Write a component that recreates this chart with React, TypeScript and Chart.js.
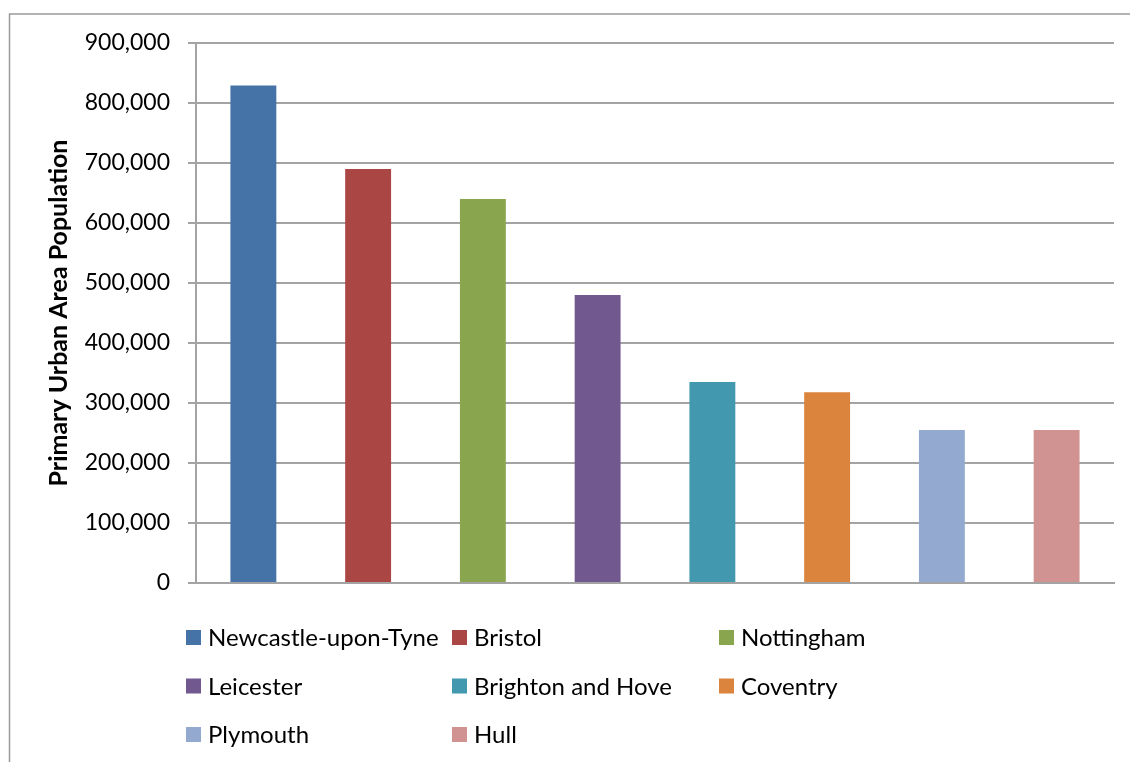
import React, { useEffect, useRef } from "react";
import { Chart, registerables } from "chart.js";

Chart.register(...registerables);

const categories = [
  "Newcastle-upon-Tyne",
  "Bristol",
  "Nottingham",
  "Leicester",
  "Brighton and Hove",
  "Coventry",
  "Plymouth",
  "Hull",
];
const populations = [829000, 690000, 640000, 480000, 335000, 318000, 255000, 255000];
const barColors = [
  "#4572A7",
  "#AA4643",
  "#89A54E",
  "#71588F",
  "#4198AF",
  "#DB843D",
  "#93A9CF",
  "#D19392",
];
const yAxisTitle = "Primary Urban Area Population";
const yMin = 0;
const yMax = 900000;
const yStep = 100000;

const FONT = "Lato, 'Open Sans', sans-serif";
const GRID = "#a3a3a3";

const frameAndLegend = {
  id: "frameAndLegend",
  afterDraw(chart: any) {
    const ctx = chart.ctx;
    ctx.save();
    // outer frame (top and left visible)
    ctx.strokeStyle = "#9a9a9a";
    ctx.lineWidth = 1.5;
    ctx.beginPath();
    ctx.moveTo(9.5, 762);
    ctx.lineTo(9.5, 14);
    ctx.lineTo(1130, 14);
    ctx.stroke();

    // legend in 3 columns
    const colX = [186, 452, 719];
    const rowY = [637.5, 686, 734.5];
    ctx.font = "24px " + FONT;
    ctx.textBaseline = "middle";
    ctx.textAlign = "left";
    categories.forEach((name, i) => {
      const c = i % 3;
      const r = Math.floor(i / 3);
      const x = colX[c];
      const y = rowY[r];
      ctx.fillStyle = barColors[i];
      ctx.fillRect(x, y - 7.5, 15, 15);
      ctx.fillStyle = "#000";
      ctx.fillText(name, x + 22, y + 1);
    });
    ctx.restore();
  },
};

export default function App() {
  const ref = useRef<HTMLCanvasElement>(null);
  useEffect(() => {
    document.body.style.margin = "0";
    const chart = new Chart(ref.current!, {
      type: "bar",
      data: {
        labels: categories,
        datasets: [
          {
            label: "Population",
            data: populations,
            backgroundColor: barColors,
            barPercentage: 0.4,
            categoryPercentage: 1,
          },
        ],
      },
      options: {
        responsive: false,
        animation: false,
        layout: { padding: { left: 0, top: 43, right: 16, bottom: 179 } },
        plugins: {
          legend: { display: false },
          tooltip: { enabled: false },
        },
        scales: {
          x: {
            ticks: { display: false },
            grid: { display: false, drawTicks: false },
            border: { display: true, color: GRID, width: 2 },
            afterFit: (s: any) => {
              s.height = 0;
            },
          },
          y: {
            min: yMin,
            max: yMax,
            ticks: {
              stepSize: yStep,
              padding: 18,
              color: "#000",
              font: { family: FONT, size: 23 },
              callback: (v: any) => Number(v).toLocaleString("en-US"),
            },
            grid: { color: GRID, lineWidth: 2, tickLength: 8, drawTicks: true },
            border: { display: true, color: GRID, width: 2 },
            title: {
              display: true,
              text: yAxisTitle,
              color: "#000",
              font: { family: FONT, size: 25, weight: "bold" },
              padding: { top: 44, bottom: 0 },
            },
            afterFit: (s: any) => {
              s.width = 196;
            },
          },
        },
      },
      plugins: [frameAndLegend],
    });
    return () => chart.destroy();
  }, []);
  return (
    <div style={{ position: "absolute", left: 0, top: 0, width: 1130, height: 762, background: "#fff" }}>
      <canvas ref={ref} width={1130} height={762} />
    </div>
  );
}
